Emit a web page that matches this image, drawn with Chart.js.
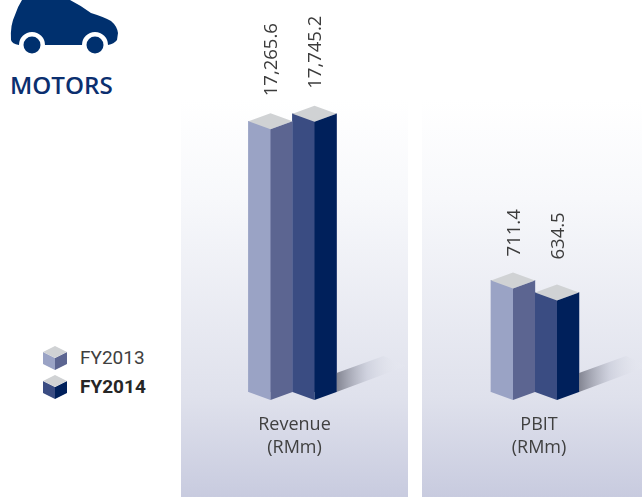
<!DOCTYPE html>
<html>
<head>
<meta charset="utf-8">
<script src="https://cdn.jsdelivr.net/npm/chart.js@4"></script>
<style>
    html, body { margin: 0; padding: 0; background: #fff; overflow: hidden; }
    body { width: 642px; height: 497px; position: relative; }
    canvas { position: absolute; top: 0; }
    #revenueChart { left: 181px; }
    #pbitChart { left: 422px; }
    #car { position: absolute; left: 0; top: 0; }
    #title {
        position: absolute; left: 10px; top: 68px;
        font: 600 24.2px "Open Sans", sans-serif; color: #0b2f6f;
    }
    .legend-item { position: absolute; left: 43px; height: 24px; }
    .legend-item svg { position: absolute; left: 0; top: 0; }
    .legend-item span {
        position: absolute; left: 37px; top: 0;
        font: 19px/24px Roboto, sans-serif; color: #404040;
    }
    .legend-item.bold span { font-weight: 700; color: #262626; }
</style>
</head>
<body>
<svg id="car" width="125" height="60" viewBox="0 0 125 60">
    <path fill="#00306e" d="M22 0 L70 0 Q80 5 91 13 Q104 17 111 21 Q117 26 118 33 L117 40 Q114 44 108 45 A13 13 0 0 0 82 45 L45 45 A13 13 0 0 0 19 45 Q12 44 11 40 Q10 25 15 15 Q18 6 22 0 Z"/>
    <circle cx="32" cy="45" r="8.5" fill="#00306e"/>
    <circle cx="95" cy="45" r="8.5" fill="#00306e"/>
</svg>
<div id="title">MOTORS</div>
<div id="legend"></div>
<canvas id="revenueChart" width="227" height="497"></canvas>
<canvas id="pbitChart" width="220" height="497"></canvas>
<script>
const seriesNames = ['FY2013', 'FY2014'];
const revenueLabel = ['Revenue', '(RMm)'];
const pbitLabel = ['PBIT', '(RMm)'];
const revenueValues = [17265.6, 17745.2];
const pbitValues = [711.4, 634.5];

const leftFaces = ['#9aa3c5', '#3a4c82'];
const rightFaces = ['#5c6591', '#00205b'];
const topFace = '#d0d2d4';
const depth = 8;

function path(ctx, points, fill) {
    ctx.beginPath();
    points.forEach((p, i) => i ? ctx.lineTo(p[0], p[1]) : ctx.moveTo(p[0], p[1]));
    ctx.closePath();
    ctx.fillStyle = fill;
    ctx.fill();
}

const panelPlugin = {
    id: 'panel',
    beforeDraw(chart) {
        const { ctx, width, height } = chart;
        const grad = ctx.createLinearGradient(0, 100, 0, height);
        grad.addColorStop(0, '#ffffff');
        grad.addColorStop(0.25, '#f7f8fb');
        grad.addColorStop(0.75, '#dfe1ec');
        grad.addColorStop(1, '#c8cbdf');
        ctx.fillStyle = grad;
        ctx.fillRect(0, 100, width, height - 100);
    }
};

// the bars are flat in Chart.js, so the faces are built from the bar elements
const cubePlugin = {
    id: 'cube',
    afterDatasetsDraw(chart, args, opts) {
        const ctx = chart.ctx;
        chart.data.datasets.forEach((ds, i) => {
            const bar = chart.getDatasetMeta(i).data[0];
            const half = bar.width / 2;
            const l = bar.x - half, r = bar.x + half, t = bar.y, b = bar.base;

            if (i === chart.data.datasets.length - 1) {
                const grad = ctx.createLinearGradient(r, 0, r + 68, 0);
                grad.addColorStop(0, 'rgba(120,122,135,0.9)');
                grad.addColorStop(0.45, 'rgba(195,198,212,0.6)');
                grad.addColorStop(1, 'rgba(240,242,248,0.05)');
                path(ctx, [[r, b - 19], [r + 47, b - 36], [r + 70, b - 26], [r, b]], grad);
            }
            path(ctx, [[l, t], [bar.x, t + depth], [bar.x, b + depth], [l, b]], leftFaces[i]);
            path(ctx, [[bar.x, t + depth], [r, t], [r, b], [bar.x, b + depth]], rightFaces[i]);
            path(ctx, [[l, t], [bar.x, t - depth], [r, t], [bar.x, t + depth]], topFace);

            const text = ds.data[0].toLocaleString('en-US', { minimumFractionDigits: 1 });
            ctx.save();
            ctx.translate(bar.x + 1.5, t - depth - opts.gaps[i]);
            ctx.rotate(-Math.PI / 2);
            ctx.font = '18.5px "Open Sans", sans-serif';
            ctx.fillStyle = '#3c3c3c';
            ctx.textAlign = 'left';
            ctx.textBaseline = 'middle';
            ctx.fillText(text, 0, 0);
            ctx.restore();
        });
    }
};

function createChart(id, label, values, yMax, padding, labelOffset, gaps) {
    const ctx = document.getElementById(id).getContext('2d');
    return new Chart(ctx, {
        type: 'bar',
        data: {
            labels: [label],
            datasets: seriesNames.map((name, i) => ({
                label: name,
                data: [values[i]],
                backgroundColor: leftFaces[i],
                barThickness: 44
            }))
        },
        options: {
            responsive: false,
            animation: false,
            layout: { padding: padding },
            scales: {
                x: {
                    grid: { display: false },
                    border: { display: false },
                    afterFit: (scale) => { scale.height = 105; },
                    ticks: {
                        padding: 14,
                        labelOffset: labelOffset,
                        maxRotation: 0,
                        color: '#404040',
                        font: { family: '"Open Sans", sans-serif', size: 18, lineHeight: 1.25 }
                    }
                },
                y: { display: false, min: 0, max: yMax }
            },
            plugins: {
                legend: { display: false },
                tooltip: { enabled: false },
                cube: { gaps: gaps }
            }
        },
        plugins: [panelPlugin, cubePlugin]
    });
}

createChart('revenueChart', revenueLabel, revenueValues, 25000, { right: 4 }, 2, [17, 17]);
createChart('pbitChart', pbitLabel, pbitValues, 2500, { left: 6 }, 4, [16, 25]);

// legend sits outside both panels
const legend = document.getElementById('legend');
const legendTops = [346, 375];
seriesNames.forEach((name, i) => {
    const item = document.createElement('div');
    item.className = 'legend-item' + (i === 1 ? ' bold' : '');
    item.style.top = legendTops[i] + 'px';
    item.innerHTML = `<svg width="24" height="24" viewBox="0 0 24 24">
        <polygon points="0,6 12,12 12,24 0,18" fill="${leftFaces[i]}"/>
        <polygon points="12,12 24,6 24,18 12,24" fill="${rightFaces[i]}"/>
        <polygon points="0,6 12,0 24,6 12,12" fill="${topFace}"/>
    </svg><span>${name}</span>`;
    legend.appendChild(item);
});
</script>
</body>
</html>
